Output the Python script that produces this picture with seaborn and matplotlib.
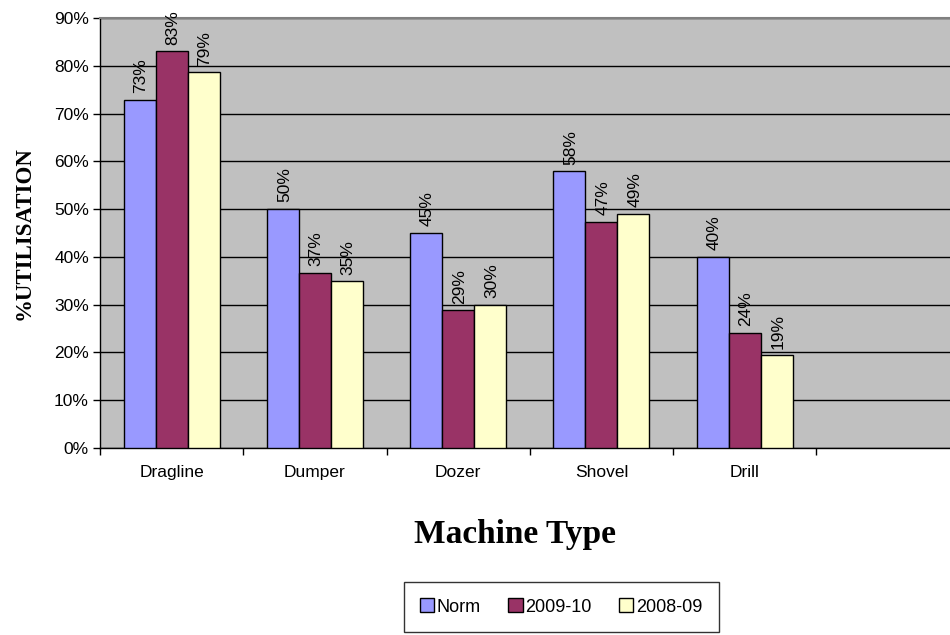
import numpy as np
import pandas as pd
import matplotlib
matplotlib.use("Agg")
import matplotlib.pyplot as plt
import seaborn as sns
from matplotlib.patches import Patch

categories = ["Dragline", "Dumper", "Dozer", "Shovel", "Drill"]
series = ["Norm", "2009-10", "2008-09"]
norm = [72.8, 50.0, 45.1, 57.9, 40.0]
y2009_10 = [83.0, 36.6, 28.8, 47.3, 24.1]
y2008_09 = [78.6, 34.9, 30.0, 49.0, 19.4]
labels_norm = ["73%", "50%", "45%", "58%", "40%"]
labels_0910 = ["83%", "37%", "29%", "47%", "24%"]
labels_0809 = ["79%", "35%", "30%", "49%", "19%"]
colors = ["#9999FF", "#993366", "#FFFFCC"]

df = pd.DataFrame({
    "Machine": categories * 3,
    "Series": np.repeat(series, len(categories)),
    "Value": norm + y2009_10 + y2008_09,
})
all_labels = [labels_norm, labels_0910, labels_0809]

sns.set_style("white")
plt.rcParams["font.family"] = ["Liberation Sans", "DejaVu Sans"]
plt.rcParams["text.color"] = "black"
plt.rcParams["xtick.color"] = "black"
plt.rcParams["ytick.color"] = "black"

fig = plt.figure(figsize=(9.5, 6.35), dpi=100)
ax = fig.add_axes([100 / 950, 1 - 448 / 635, 1 - 100 / 950 + 0.01, (448 - 18) / 635])
ax.set_facecolor("#C0C0C0")

sns.barplot(data=df, x="Machine", y="Value", hue="Series", order=categories,
            hue_order=series, palette=colors, saturation=1, width=0.67,
            edgecolor="black", linewidth=1.0, ax=ax, legend=False, zorder=3)

# data labels
for cont, labs in zip(ax.containers, all_labels):
    for bar, lab in zip(cont, labs):
        ax.text(bar.get_x() + bar.get_width() / 2 + 0.01, bar.get_height() + 1.4, lab,
                rotation=90, ha="center", va="bottom", fontsize=12.5, color="black",
                zorder=4)

ax.set_ylim(0, 90)
ax.set_xlim(-0.5, -0.5 + 858 / 143)
ax.set_yticks(np.arange(0, 91, 10))
ax.set_yticklabels([f"{v}%" for v in range(0, 91, 10)], fontsize=12.5)
ax.yaxis.grid(True, color="black", linewidth=1.0, zorder=0)
ax.set_axisbelow(True)
ax.tick_params(axis="y", length=5, width=1, color="black", direction="out", left=True, pad=3)

ax.set_xticks(range(len(categories)))
ax.set_xticklabels(categories, fontsize=12.5)
ax.tick_params(axis="x", length=0, pad=12)
ax.set_xticks(np.arange(-0.5, 6.0, 1.0), minor=True)
ax.tick_params(axis="x", which="minor", length=5, width=1, color="black", direction="out", bottom=True)

for side in ["left", "bottom"]:
    ax.spines[side].set_color("black")
    ax.spines[side].set_linewidth(1.0)
ax.spines["top"].set_color("#808080")
ax.spines["top"].set_linewidth(1.5)
ax.spines["right"].set_visible(False)

ax.set_xlabel("")
ax.set_ylabel("")
fig.text(24 / 950, 1 - 233 / 635, "%UTILISATION", rotation=90, ha="center", va="center",
         fontsize=16.5, fontweight="bold", family=["Liberation Serif", "DejaVu Serif"])
fig.text(515 / 950, 1 - 535 / 635, "Machine Type", ha="center", va="center",
         fontsize=24, fontweight="bold", family=["Liberation Serif", "DejaVu Serif"])

handles = [Patch(facecolor=c, edgecolor="black", linewidth=1.0) for c in colors]
leg = fig.legend(handles, series, loc="center", bbox_to_anchor=(561 / 950, 1 - 607 / 635),
                 ncol=3, fontsize=13, frameon=True, fancybox=False, edgecolor="black",
                 handlelength=0.8, handleheight=0.8, handletextpad=0.15, columnspacing=1.5,
                 borderpad=0.9)
leg.get_frame().set_linewidth(1.0)

fig.savefig("out.png", dpi=100)
